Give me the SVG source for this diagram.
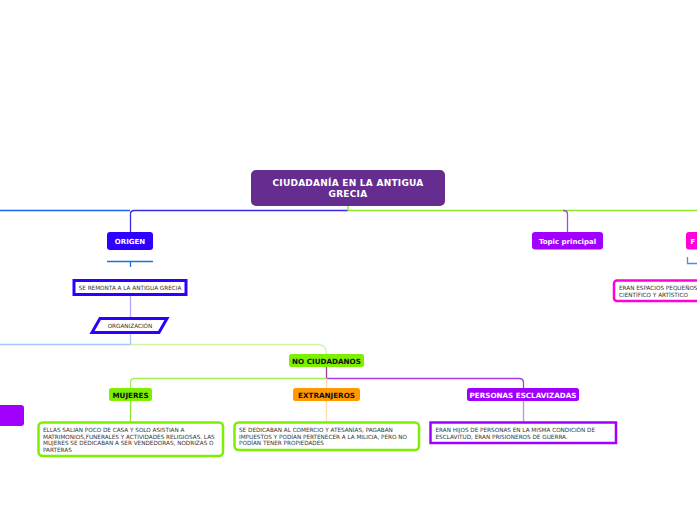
<svg xmlns="http://www.w3.org/2000/svg" width="697" height="520" viewBox="0 0 697 520">
<style>
.t{font-family:"DejaVu Sans","Liberation Sans",sans-serif;font-weight:bold;text-anchor:middle}
.s{font-family:"DejaVu Sans","Liberation Sans",sans-serif;font-size:5.7px;fill:#333}
.c{fill:none;stroke-width:1.3}
</style>
<rect width="697" height="520" fill="#fff"/>
<g id="connectors">
<path class="c" d="M0 210.5 H130" stroke="#1a66e6"/>
<path class="c" d="M348 210.5 H134 Q130.5 210.5 130.5 214 V232" stroke="#3a2be0"/>
<path class="c" d="M348 206 V210.5 H697" stroke="#8ce62a" stroke-width="2"/>
<path class="c" d="M563 210.5 Q567.5 210.5 567.5 214 V232" stroke="#a548d8"/>
<path class="c" d="M107 261.5 H153 M130.5 261.5 V267" stroke="#1e6fd9"/>
<path class="c" d="M130.5 295 V318" stroke="#b4a6ff"/>
<path class="c" d="M130.5 333 V344.5 H0" stroke="#a9c4ff"/>
<path class="c" d="M130.5 344.5 H318 Q326.5 344.5 326.5 354" stroke="#c9f5a4"/>
<path class="c" d="M326.5 367 V378.5" stroke="#9b3c8f" stroke-width="1.6"/>
<path class="c" d="M326.5 378.5 H134.5 Q130.5 378.5 130.5 382.5 V388" stroke="#a6ee5a"/>
<path class="c" d="M326.5 378.5 H519 Q523.5 378.5 523.5 382.5 V388" stroke="#a63ce6"/>
<path class="c" d="M326.5 378.5 V388" stroke="#ffd9a6"/>
<path class="c" d="M130.5 401 V422" stroke="#8ce62a"/>
<path class="c" d="M326.5 401 V422" stroke="#ffd9a6"/>
<path class="c" d="M523.5 401 V422" stroke="#c68af0"/>
<path class="c" d="M687.5 257 V263.5 H697" stroke="#4a90e2"/>
</g>
<g id="main">
<rect x="251" y="170" width="194" height="36" rx="5" fill="#662d91"/>
<text class="t" x="348" y="186" font-size="9" letter-spacing="0.25" fill="#fff">CIUDADANÍA EN LA ANTIGUA</text>
<text class="t" x="348" y="197" font-size="9" letter-spacing="0.25" fill="#fff">GRECIA</text>
</g>
<g id="origen">
<rect x="107" y="232" width="46" height="18" rx="3" fill="#3000ff"/>
<text class="t" x="130" y="243.5" font-size="7" fill="#fff">ORIGEN</text>
</g>
<g id="remonta">
<rect x="74" y="280.5" width="112" height="14" fill="#fff" stroke="#3000ff" stroke-width="3"/>
<text class="s" x="130" y="290" text-anchor="middle">SE REMONTA A LA ANTIGUA GRECIA</text>
</g>
<g id="organizacion">
<polygon points="92,332.5 100,318.5 167,318.5 159,332.5" fill="#fff" stroke="#3000ff" stroke-width="3"/>
<text class="s" x="130" y="328" text-anchor="middle">ORGANIZACIÓN</text>
</g>
<g id="topic">
<rect x="532" y="232" width="71" height="17.5" rx="3" fill="#a100ff"/>
<text class="t" x="567.5" y="243.5" font-size="7" fill="#fff">Topic principal</text>
</g>
<g id="pink">
<rect x="686" y="232" width="30" height="17.5" rx="3" fill="#ff00dc"/>
<text class="t" x="693" y="243.5" font-size="7" fill="#fff">F</text>
</g>
<g id="pinkbox">
<rect x="614" y="280.5" width="100" height="20.5" rx="3" fill="#fff" stroke="#ff00dc" stroke-width="2.5"/>
<text class="s" x="619" y="289.5">ERAN ESPACIOS PEQUEÑOS</text>
<text class="s" x="619" y="297">CIENTÍFICO Y ARTÍSTICO</text>
</g>
<g id="leftnode">
<rect x="-10" y="405" width="34" height="21" rx="3" fill="#a100ff"/>
</g>
<g id="nociudadanos">
<rect x="289" y="354" width="75" height="13" rx="2.5" fill="#7cf000"/>
<text class="t" x="326.5" y="363.5" font-size="7.2" fill="#111">NO CIUDADANOS</text>
</g>
<g id="mujeres">
<rect x="109" y="388" width="43" height="13" rx="2.5" fill="#7cf000"/>
<text class="t" x="130.5" y="397.5" font-size="7.2" fill="#111">MUJERES</text>
</g>
<g id="extranjeros">
<rect x="293" y="388" width="67" height="13" rx="2.5" fill="#ff9900"/>
<text class="t" x="326.5" y="397.5" font-size="7.2" fill="#111">EXTRANJEROS</text>
</g>
<g id="esclavizadas">
<rect x="467" y="388" width="112" height="13" rx="2.5" fill="#a100ff"/>
<text class="t" x="523" y="397.5" font-size="7.2" fill="#fff">PERSONAS ESCLAVIZADAS</text>
</g>
<g id="mujeresbox">
<rect x="38.5" y="422.5" width="184.5" height="33.5" rx="4" fill="#fff" stroke="#7cf000" stroke-width="2.5"/>
<text class="s" x="43" y="431.5">ELLAS SALIAN POCO DE CASA Y SOLO ASISTIAN A</text>
<text class="s" x="43" y="438.5">MATRIMONIOS,FUNERALES Y ACTIVIDADES RELIGIOSAS. LAS</text>
<text class="s" x="43" y="445">MUJERES SE DEDICABAN A SER VENDEDORAS, NODRIZAS O</text>
<text class="s" x="43" y="451.5">PARTERAS</text>
</g>
<g id="extranjerosbox">
<rect x="234.5" y="422.5" width="184.5" height="27.5" rx="4" fill="#fff" stroke="#7cf000" stroke-width="2.5"/>
<text class="s" x="239" y="431.5">SE DEDICABAN AL COMERCIO Y ATESANÍAS, PAGABAN</text>
<text class="s" x="239" y="438.5">IMPUESTOS Y PODÍAN PERTENECER A LA MILICIA, PERO NO</text>
<text class="s" x="239" y="445">PODÍAN TENER PROPIEDADES</text>
</g>
<g id="esclavizadasbox">
<rect x="430.5" y="422.5" width="185.5" height="20.5" fill="#fff" stroke="#a100ff" stroke-width="2.5"/>
<text class="s" x="435.5" y="431.5">ERAN HIJOS DE PERSONAS EN LA MISMA CONDICIÓN DE</text>
<text class="s" x="435.5" y="438.5">ESCLAVITUD, ERAN PRISIONEROS DE GUERRA.</text>
</g>
</svg>
